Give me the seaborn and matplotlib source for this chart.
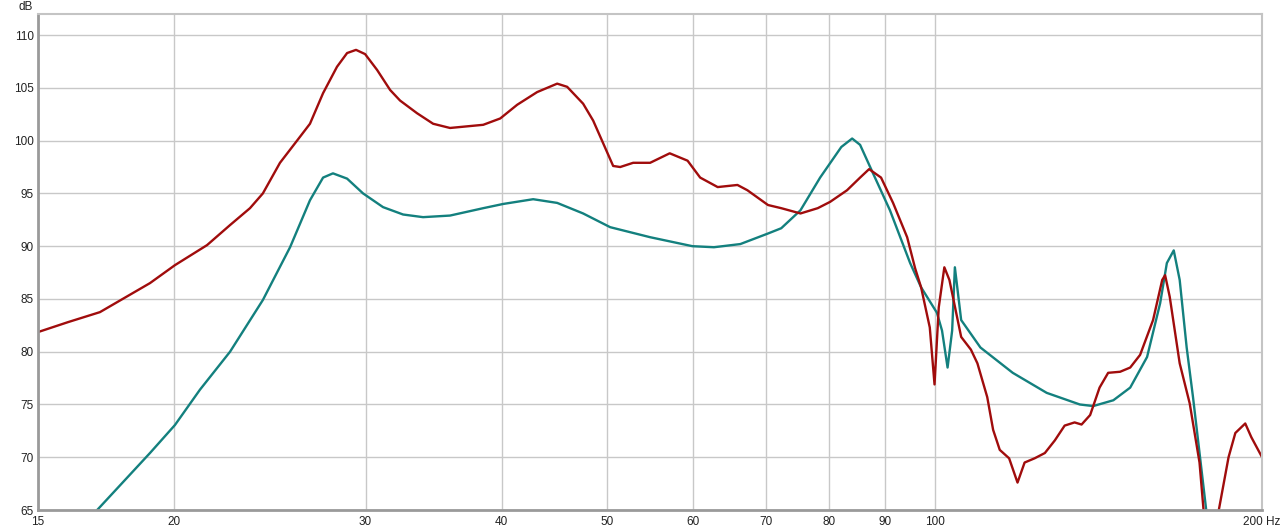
import numpy as np
import pandas as pd
import matplotlib
matplotlib.use('Agg')
import matplotlib.pyplot as plt
import seaborn as sns

# red trace (Hz, dB)
red_freq = [15, 15.98, 17.1, 19.01, 20.04, 21.45, 22.52, 23.49, 24.14, 25.03, 25.95, 26.67, 27.42,
            28.24, 28.85, 29.40, 29.97, 30.74, 31.60, 32.27, 33.45, 34.61, 35.87, 38.48, 39.89,
            41.35, 43.13, 45.0, 45.96, 47.54, 48.56, 49.60, 50.66, 51.42, 52.85, 54.78, 57.1,
            59.3, 60.9, 63.2, 65.9, 67.3, 70.3, 72.3, 75.3, 78.1, 80.18, 83.1, 85.43, 87.07,
            89.3, 91.6, 94.37, 95.98, 97.2, 99.0, 100.0, 100.9, 102.1, 103.2, 105.8, 108.0,
            109.5, 111.8, 113.2, 114.8, 117.1, 119.2, 121, 123.6, 126.3, 129, 131.7, 134.5,
            136.5, 139, 141.8, 144.4, 148.1, 151.3, 154.5, 158.8, 161.9, 162.9, 164.5, 168,
            171.6, 175.2, 176.7, 179.3, 182.5, 186.3, 189, 193, 195.5, 200]
red_db = [81.86, 82.8, 83.75, 86.5, 88.2, 90.1, 92.0, 93.6, 95.0, 97.9, 100.0, 101.6, 104.5,
          107.0, 108.3, 108.6, 108.2, 106.7, 104.8, 103.8, 102.6, 101.6, 101.2, 101.5, 102.1,
          103.4, 104.6, 105.4, 105.1, 103.5, 101.9, 99.75, 97.6, 97.5, 97.9, 97.9, 98.8,
          98.1, 96.5, 95.6, 95.8, 95.3, 93.9, 93.6, 93.1, 93.6, 94.2, 95.3, 96.5, 97.3,
          96.5, 94.1, 90.85, 87.9, 86.1, 82.3, 76.9, 84.2, 88.0, 86.8, 81.4, 80.2,
          78.9, 75.7, 72.6, 70.7, 69.9, 67.6, 69.5, 69.9, 70.4, 71.6, 73.0, 73.3,
          73.1, 74.0, 76.6, 78.0, 78.1, 78.5, 79.7, 83.0, 86.8, 87.25, 85.2, 78.9,
          75.1, 69.5, 65.0, 62.0, 65.0, 70.0, 72.3, 73.2, 71.9, 70.0]

# teal trace (Hz, dB)
teal_freq = [16.5, 17.0, 19.01, 20.04, 21.13, 22.52, 24.14, 25.57, 26.67, 27.42, 28.0, 28.85, 29.84,
             31.13, 32.48, 33.88, 35.87, 38.48, 40.14, 42.77, 45.0, 47.54, 50.34, 54.78, 59.9,
             62.7, 66.3, 70.3, 72.3, 75.3, 78.5, 82.1, 84.0, 85.43, 87.8, 91.0, 94.97, 97.2,
             100.5, 101.6, 102.8, 103.8, 104.4, 105.8, 110.2, 118, 126.8, 136, 139.9, 146,
             151.3, 156.8, 161.2, 163.5, 165.9, 168, 170.5, 172.8, 177.7, 181, 185]
teal_db = [63.5, 65.0, 70.4, 73.05, 76.4, 80.0, 84.9, 89.9, 94.35, 96.5, 96.9, 96.4, 95.0,
           93.7, 93.0, 92.75, 92.9, 93.6, 94.0, 94.45, 94.1, 93.1, 91.8, 90.85, 90.0,
           89.9, 90.2, 91.2, 91.7, 93.4, 96.5, 99.4, 100.2, 99.6, 96.9, 93.4, 88.4, 86.1,
           83.7, 82.0, 78.5, 82.0, 88.0, 83.0, 80.4, 78.0, 76.1, 75.0, 74.85, 75.4,
           76.6, 79.5, 84.6, 88.4, 89.6, 86.8, 80.4, 75.7, 65.0, 61.0, 57.0]

x_ticks = [15, 20, 30, 40, 50, 60, 70, 80, 90, 100, 200]
x_labels = ['15', '20', '30', '40', '50', '60', '70', '80', '90', '100', '200 Hz']
y_ticks = [65, 70, 75, 80, 85, 90, 95, 100, 105, 110]

red_df = pd.DataFrame({'freq': red_freq, 'db': red_db})
teal_df = pd.DataFrame({'freq': teal_freq, 'db': teal_db})

sns.set_style('white')
plt.rcParams['font.family'] = ['Liberation Sans', 'DejaVu Sans']

fig = plt.figure(figsize=(12.8, 5.3), dpi=100)
ax = fig.add_axes([0.0297, 0.0377, 0.9563, 0.9359])

sns.lineplot(data=teal_df, x='freq', y='db', ax=ax, color='#13807e', lw=1.7, sort=False)
sns.lineplot(data=red_df, x='freq', y='db', ax=ax, color='#a00c0c', lw=1.7, sort=False)

ax.set_xscale('log')
ax.set_xlim(15, 200)
ax.set_ylim(65, 112)
ax.set_xticks(x_ticks)
ax.set_xticklabels(x_labels)
ax.xaxis.set_minor_locator(matplotlib.ticker.NullLocator())
ax.set_yticks(y_ticks)
ax.set_xlabel('')
ax.set_ylabel('')
ax.tick_params(axis='both', length=0, labelsize=8.5, colors='#222222')
ax.tick_params(axis='x', pad=4)
ax.tick_params(axis='y', pad=3)
ax.grid(True, color='#c8c8c8', lw=1)
ax.set_axisbelow(True)

for side in ['top', 'right']:
    ax.spines[side].set_color('#c4c4c4')
    ax.spines[side].set_linewidth(1.5)
for side in ['left', 'bottom']:
    ax.spines[side].set_color('#9a9a9a')
    ax.spines[side].set_linewidth(2)

fig.text(0.026, 0.986, 'dB', ha='right', va='center', fontsize=8.5, color='#222222')

plt.savefig('out.png', dpi=100)
